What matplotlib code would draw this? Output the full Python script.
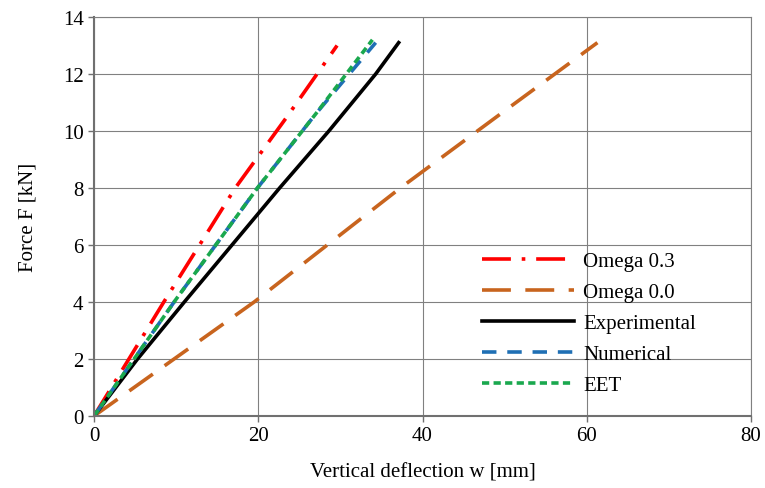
import numpy as np
import matplotlib.pyplot as plt

plt.rcParams['font.family'] = ['Liberation Serif', 'DejaVu Serif']

# curves: deflection w [mm], force F [kN]
w_om03 = [0, 8.5, 17.2, 23.5, 29.6]
f_om03 = [0, 4.0, 8.0, 10.5, 13.0]
w_om00 = [0, 19.5, 37.3, 49.5, 61.3]
f_om00 = [0, 4.0, 8.0, 10.6, 13.1]
w_exp = [0, 5.3, 11.0, 16.8, 22.6, 28.6, 34.3, 37.1]
f_exp = [0, 2.0, 4.0, 6.0, 8.0, 10.0, 12.0, 13.1]
w_num = [0, 10.0, 19.9, 27.0, 34.3]
f_num = [0, 4.1, 8.0, 10.6, 13.1]
w_eet = [0, 10.0, 19.9, 27.0, 33.9]
f_eet = [0, 4.1, 8.0, 10.6, 13.2]

x_ticks = [0, 20, 40, 60, 80]
y_ticks = [0, 2, 4, 6, 8, 10, 12, 14]

fig = plt.figure(figsize=(7.65, 4.89), dpi=100)
ax = fig.add_axes([94 / 765, 1 - 417 / 489, (751 - 94) / 765, (417 - 18) / 489])

lw = 2.6
ax.plot(w_om03, f_om03, color='#ff0000', lw=lw, dashes=(8, 3, 1, 3), label='Omega 0.3')
ax.plot(w_om00, f_om00, color='#c8641e', lw=lw, dashes=(8, 4), label='Omega 0.0')
ax.plot(w_exp, f_exp, color='black', lw=lw, label='Experimental')
ax.plot(w_num, f_num, color='#1f6fb4', lw=lw, dashes=(4, 3), label='Numerical')
ax.plot(w_eet, f_eet, color='#1aa84e', lw=lw, dashes=(2, 1.2), label='EET')

ax.set_xlim(0, 80)
ax.set_ylim(0, 14)
ax.set_xticks(x_ticks)
ax.set_yticks(y_ticks)
ax.grid(True, color='#808080', lw=0.8)
ax.set_axisbelow(True)
for s in ['left', 'bottom']:
    ax.spines[s].set_color('#707070')
    ax.spines[s].set_linewidth(1.5)
for s in ['top', 'right']:
    ax.spines[s].set_color('#808080')
    ax.spines[s].set_linewidth(0.8)
ax.tick_params(direction='out', length=4, width=1, color='#707070', labelsize=15)

ax.set_xlabel('Vertical deflection w [mm]', fontsize=15, labelpad=12)
ax.set_ylabel('Force F [kN]', fontsize=15, labelpad=18)

ax.legend(loc='lower right', bbox_to_anchor=(0.945, 0.005), frameon=False, fontsize=15,
          handlelength=4.4, labelspacing=0.55, handletextpad=0.45)

fig.savefig('out.png', dpi=100)
